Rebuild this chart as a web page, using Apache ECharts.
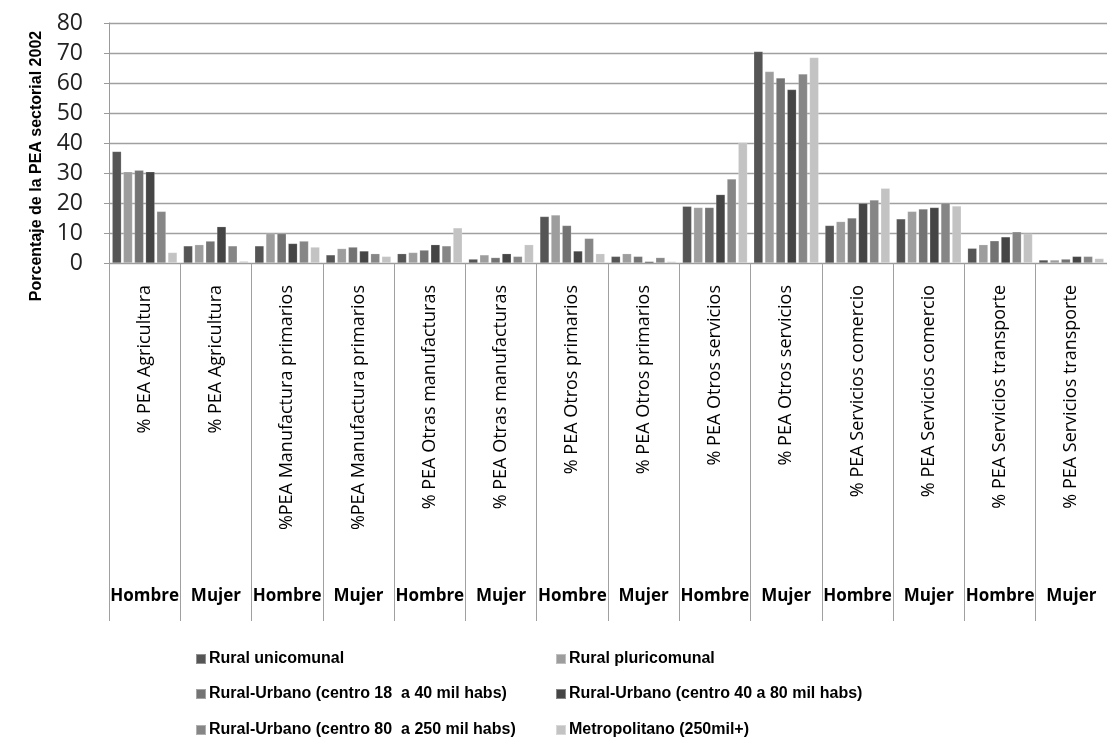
<!DOCTYPE html>
<html>
<head>
<meta charset="utf-8">
<script src="https://cdn.jsdelivr.net/npm/echarts@6/dist/echarts.min.js"></script>
<style>html,body{margin:0;padding:0;background:#fff}#c{width:1107px;height:749px}</style>
</head>
<body>
<div id="c"></div>
<script>
const categories = ['% PEA Agricultura','% PEA Agricultura','%PEA Manufactura primarios','%PEA Manufactura primarios','% PEA Otras manufacturas','% PEA Otras manufacturas','% PEA Otros primarios','% PEA Otros primarios','% PEA Otros servicios','% PEA Otros servicios','% PEA Servicios comercio','% PEA Servicios comercio','% PEA Servicios transporte','% PEA Servicios transporte'];
const sexLabels = ['Hombre','Mujer','Hombre','Mujer','Hombre','Mujer','Hombre','Mujer','Hombre','Mujer','Hombre','Mujer','Hombre','Mujer'];
const seriesNames = ['Rural unicomunal','Rural pluricomunal','Rural-Urbano (centro 18  a 40 mil habs)','Rural-Urbano (centro 40 a 80 mil habs)','Rural-Urbano (centro 80  a 250 mil habs)','Metropolitano (250mil+)'];
const ruralUnicomunal = [37.2,5.7,5.7,2.7,3.1,1.3,15.5,2.2,18.9,70.5,12.5,14.7,4.9,1.0];
const ruralPluricomunal = [30.4,6.1,9.8,4.8,3.5,2.7,16.0,3.1,18.5,63.8,13.8,17.2,6.1,1.0];
const ruralUrbano18a40 = [30.9,7.3,9.8,5.3,4.3,1.8,12.5,2.2,18.5,61.7,15.0,18.0,7.4,1.3];
const ruralUrbano40a80 = [30.4,12.1,6.5,4.0,6.1,3.1,4.0,0.5,22.8,57.8,19.9,18.5,8.7,2.2];
const ruralUrbano80a250 = [17.2,5.7,7.3,3.1,5.7,2.2,8.2,1.8,28.0,63.0,21.0,20.0,10.4,2.2];
const metropolitano = [3.5,0.6,5.3,2.2,11.7,6.1,3.1,0.5,40.2,68.5,24.9,19.0,9.8,1.5];
const yTicks = [0,10,20,30,40,50,60,70,80];

const seriesData = [ruralUnicomunal, ruralPluricomunal, ruralUrbano18a40, ruralUrbano40a80, ruralUrbano80a250, metropolitano];
const colors = ['#555555','#9d9d9d','#737373','#454545','#868686','#c3c3c3'];
const FONT = '"Open Sans", "Noto Sans", sans-serif';
const BOLDF = '"Liberation Sans", Arial, sans-serif';

const chart = echarts.init(document.getElementById('c'), null, {renderer: 'canvas'});

const legendPos = [[190,646],[550,646],[190,681],[550,681],[190,717],[550,717]];

const option = {
  animation: false,
  backgroundColor: '#ffffff',
  color: colors,
  grid: {left: 109, top: 23, right: -15, bottom: 486, containLabel: false},
  legend: seriesNames.map((n, i) => ({
    data: [n], left: legendPos[i][0], top: legendPos[i][1],
    icon: 'rect', itemWidth: 10, itemHeight: 10, itemGap: 0,
    textStyle: {fontFamily: BOLDF, fontWeight: 'bold', fontSize: 16, color: '#000', padding: [0,0,0,-2]},
    selectedMode: false
  })),
  graphic: [{
    type: 'text', x: 37, y: 166, rotation: Math.PI / 2,
    style: {text: 'Porcentaje de la PEA sectorial 2002', fontFamily: BOLDF, fontWeight: 'bold', fontSize: 16, fill: '#000', align: 'center', verticalAlign: 'middle'}
  }],
  xAxis: [{
    type: 'category', data: categories, position: 'bottom',
    axisLine: {show: true, lineStyle: {color: '#9a9a9a', width: 1}},
    axisTick: {show: true, interval: 0, length: 358, lineStyle: {color: '#a0a0a0', width: 1}},
    axisLabel: {interval: 0, rotate: 90, margin: 22, fontFamily: FONT, fontSize: 18, color: '#000'},
    splitLine: {show: false}
  }, {
    type: 'category', data: sexLabels, position: 'bottom', gridIndex: 0,
    axisLine: {show: false}, axisTick: {show: false},
    axisLabel: {interval: 0, margin: 325, fontFamily: FONT, fontWeight: 'bold', fontSize: 17, color: '#000'}
  }],
  yAxis: {
    type: 'value', min: 0, max: 80, interval: 10,
    axisLine: {show: true, lineStyle: {color: '#9a9a9a', width: 1}},
    axisTick: {show: true, length: 5, lineStyle: {color: '#9a9a9a'}},
    axisLabel: {margin: 26, fontFamily: FONT, fontSize: 23, color: '#222', formatter: v => yTicks.includes(v) ? String(v) : ''},
    splitLine: {show: true, lineStyle: {color: '#a0a0a0', width: 1.3}}
  },
  series: seriesNames.map((n, i) => ({
    name: n, type: 'bar', xAxisIndex: 0, data: seriesData[i],
    barGap: '22%', barCategoryGap: '9%',
    itemStyle: {color: colors[i], borderColor: 'rgba(255,255,255,0.35)', borderWidth: 0.5}
  }))
};
chart.setOption(option);
</script>
</body>
</html>
